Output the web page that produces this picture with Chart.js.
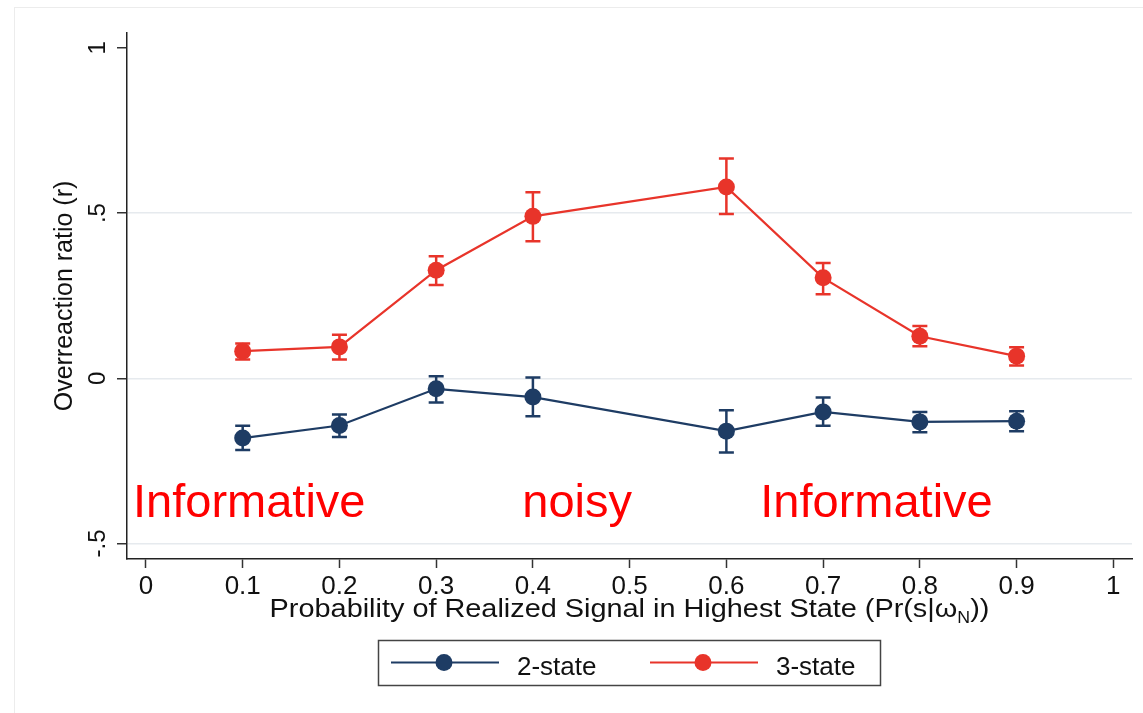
<!DOCTYPE html>
<html>
<head>
<meta charset="utf-8">
<script src="https://cdn.jsdelivr.net/npm/chart.js@4/dist/chart.umd.min.js"></script>
<style>
  html, body { margin: 0; padding: 0; background: #fff; }
  #wrap { width: 1143px; height: 713px; position: relative; }
</style>
</head>
<body>
<div id="wrap"><canvas id="chart" width="1143" height="713"></canvas></div>
<script>
// 数据：横轴概率点，两组序列及其置信区间
const xValues = [0.1, 0.2, 0.3, 0.4, 0.6, 0.7, 0.8, 0.9];

const twoState     = [-0.181, -0.143, -0.032, -0.057, -0.160, -0.102, -0.132, -0.130];
const twoStateLow  = [-0.217, -0.178, -0.073, -0.115, -0.225, -0.144, -0.163, -0.160];
const twoStateHigh = [-0.144, -0.110,  0.006,  0.002, -0.097, -0.058, -0.102, -0.100];

const threeState     = [0.082, 0.095, 0.327, 0.490, 0.579, 0.304, 0.127, 0.067];
const threeStateLow  = [0.057, 0.057, 0.282, 0.415, 0.497, 0.254, 0.097, 0.039];
const threeStateHigh = [0.105, 0.132, 0.369, 0.563, 0.665, 0.349, 0.158, 0.094];

const seriesLabels = ['2-state', '3-state'];

const xTickValues = [0, 0.1, 0.2, 0.3, 0.4, 0.5, 0.6, 0.7, 0.8, 0.9, 1];
const xTickLabels = ['0', '0.1', '0.2', '0.3', '0.4', '0.5', '0.6', '0.7', '0.8', '0.9', '1'];
const yTickValues = [-0.5, 0, 0.5, 1];
const yTickLabels = ['-.5', '0', '.5', '1'];

// 图中红色注释文字（数据坐标：左端 x，基线 y）
const noteTexts = ['Informative', 'noisy', 'Informative'];
const noteX = [-0.0134, 0.389, 0.635];
const noteY = [-0.421, -0.421, -0.421];

const xTitle = 'Probability of Realized Signal in Highest State (Pr(s|ω';
const xTitleSub = 'N';
const xTitleTail = '))';
const yTitle = 'Overreaction ratio (r)';

const NAVY = '#1E3C64';
const RED = '#E8342A';
const FONT = "'Liberation Sans', Arial, sans-serif";

var errLow = [twoStateLow, threeStateLow];
var errHigh = [twoStateHigh, threeStateHigh];

function toPoints(ys) {
  return ys.map((y, i) => ({ x: xValues[i], y: y }));
}

// 误差棒
const errorBarPlugin = {
  id: 'errorBars',
  beforeDatasetsDraw(chart) {
    var ctx = chart.ctx;
    var xs = chart.scales.x, ys = chart.scales.y;
    chart.data.datasets.forEach((ds, di) => {
      ctx.save();
      ctx.strokeStyle = ds.borderColor;
      ctx.lineWidth = 2.5;
      ds.data.forEach((p, i) => {
        var px = xs.getPixelForValue(p.x);
        var y1 = ys.getPixelForValue(errLow[di][i]);
        var y2 = ys.getPixelForValue(errHigh[di][i]);
        ctx.beginPath();
        ctx.moveTo(px, y1); ctx.lineTo(px, y2);
        ctx.moveTo(px - 7.5, y1); ctx.lineTo(px + 7.5, y1);
        ctx.moveTo(px - 7.5, y2); ctx.lineTo(px + 7.5, y2);
        ctx.stroke();
      });
      ctx.restore();
    });
  }
};

// 轴标题、y 刻度文字、注释、图例
const decorPlugin = {
  id: 'decor',
  afterDraw(chart) {
    var ctx = chart.ctx;
    var xs = chart.scales.x, ys = chart.scales.y;
    var area = chart.chartArea;
    ctx.save();

    // 外框（很淡）
    ctx.strokeStyle = '#ececec';
    ctx.lineWidth = 1;
    ctx.strokeRect(14.5, 7.5, 1200, 800);

    // y 刻度文字（竖排）
    ctx.fillStyle = '#111';
    ctx.font = '24px ' + FONT;
    ctx.textAlign = 'center';
    ctx.textBaseline = 'alphabetic';
    yTickValues.forEach((v, i) => {
      var py = ys.getPixelForValue(v);
      ctx.save();
      ctx.translate(105, py);
      ctx.rotate(-Math.PI / 2);
      ctx.fillText(yTickLabels[i], 0, 0);
      ctx.restore();
    });

    // y 轴标题
    ctx.font = '25px ' + FONT;
    ctx.save();
    ctx.translate(72, (area.top + area.bottom) / 2);
    ctx.rotate(-Math.PI / 2);
    ctx.fillText(yTitle, 0, 0);
    ctx.restore();

    // x 轴标题（带下标），原图文字略宽，横向拉伸一点
    var stretch = 1.11;
    var mainFont = '26px ' + FONT, subFont = '16px ' + FONT;
    ctx.font = mainFont;
    var w1 = ctx.measureText(xTitle).width;
    var w3 = ctx.measureText(xTitleTail).width;
    ctx.font = subFont;
    var w2 = ctx.measureText(xTitleSub).width;
    var cx = (area.left + area.right) / 2;
    var total = w1 + w2 + w3;
    var base = 617;
    ctx.save();
    ctx.translate(cx - total * stretch / 2, base);
    ctx.scale(stretch, 1);
    ctx.textAlign = 'left';
    ctx.font = mainFont;
    ctx.fillText(xTitle, 0, 0);
    ctx.font = subFont;
    ctx.fillText(xTitleSub, w1, 6);
    ctx.font = mainFont;
    ctx.fillText(xTitleTail, w1 + w2, 0);
    ctx.restore();

    // 红色注释
    ctx.textAlign = 'left';
    ctx.fillStyle = '#FF0000';
    ctx.font = '47px ' + FONT;
    noteTexts.forEach((t, i) => {
      ctx.fillText(t, xs.getPixelForValue(noteX[i]), ys.getPixelForValue(noteY[i]));
    });

    // 图例
    ctx.strokeStyle = '#444';
    ctx.lineWidth = 1.5;
    ctx.strokeRect(378.5, 640.5, 502, 45);
    var items = [{ x0: 391, text: 517 }, { x0: 650, text: 776 }];
    chart.data.datasets.forEach((ds, i) => {
      var it = items[i];
      var ly = 662.5;
      ctx.strokeStyle = ds.borderColor;
      ctx.lineWidth = 2;
      ctx.beginPath();
      ctx.moveTo(it.x0, ly); ctx.lineTo(it.x0 + 108, ly);
      ctx.stroke();
      ctx.fillStyle = ds.borderColor;
      ctx.beginPath();
      ctx.arc(it.x0 + 53, ly, 8.5, 0, Math.PI * 2);
      ctx.fill();
      ctx.fillStyle = '#111';
      ctx.font = '26px ' + FONT;
      ctx.fillText(ds.label, it.text, 675);
    });

    ctx.restore();
  }
};

new Chart(document.getElementById('chart').getContext('2d'), {
  type: 'line',
  data: {
    datasets: [
      {
        label: seriesLabels[0],
        data: toPoints(twoState),
        borderColor: NAVY,
        backgroundColor: NAVY,
        pointBackgroundColor: NAVY,
        borderWidth: 2.2,
        pointRadius: 8.5,
        pointBorderWidth: 0,
        tension: 0,
        fill: false
      },
      {
        label: seriesLabels[1],
        data: toPoints(threeState),
        borderColor: RED,
        backgroundColor: RED,
        pointBackgroundColor: RED,
        borderWidth: 2.2,
        pointRadius: 8.5,
        pointBorderWidth: 0,
        tension: 0,
        fill: false
      }
    ]
  },
  options: {
    responsive: false,
    animation: false,
    layout: { padding: { top: 33, right: 11, left: 0, bottom: 0 } },
    scales: {
      x: {
        type: 'linear',
        min: -0.0196,
        max: 1.0193,
        afterBuildTicks: function(scale) {
          scale.ticks = xTickValues.map(v => ({ value: v }));
        },
        afterFit: function(scale) { scale.height = 154; },
        ticks: {
          autoSkip: false,
          maxRotation: 0,
          padding: 3,
          color: '#111',
          font: { family: FONT, size: 26 },
          callback: function(val, i) { return xTickLabels[i]; }
        },
        grid: {
          drawOnChartArea: false,
          drawTicks: true,
          tickLength: 9,
          tickColor: '#333',
          tickWidth: 1.5
        },
        border: { color: '#222', width: 1.5 }
      },
      y: {
        type: 'linear',
        min: -0.547,
        max: 1.045,
        afterBuildTicks: function(scale) {
          scale.ticks = yTickValues.map(v => ({ value: v }));
        },
        afterFit: function(scale) { scale.width = 127; },
        ticks: { display: false },
        grid: {
          color: function(c) {
            return (c.tick && c.tick.value === 1) ? 'rgba(0,0,0,0)' : '#e6eaee';
          },
          lineWidth: 1.5,
          drawTicks: true,
          tickLength: 10,
          tickColor: '#333',
          tickWidth: 1.5
        },
        border: { color: '#222', width: 1.5 }
      }
    },
    plugins: {
      legend: { display: false },
      tooltip: { enabled: false }
    }
  },
  plugins: [errorBarPlugin, decorPlugin]
});
</script>
</body>
</html>
